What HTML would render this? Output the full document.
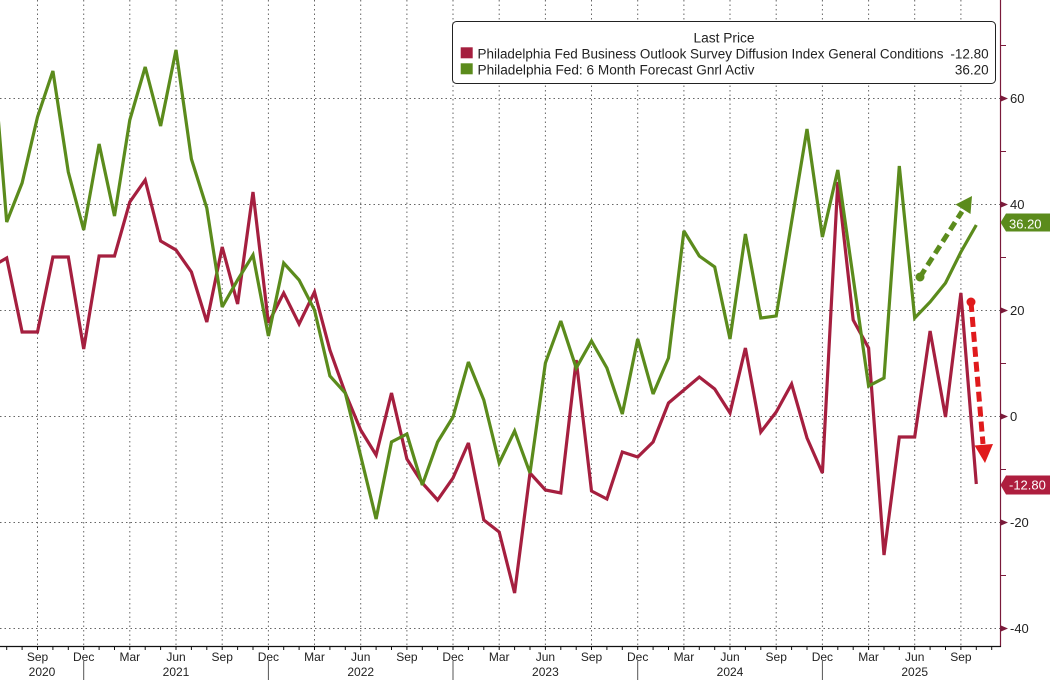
<!DOCTYPE html>
<html>
<head>
<meta charset="utf-8">
<style>
html,body{margin:0;padding:0;background:#fff;}
svg{display:block;font-family:"Liberation Sans",Arial,sans-serif;}
</style>
</head>
<body>
<svg width="1050" height="680" viewBox="0 0 1050 680" xmlns="http://www.w3.org/2000/svg">
<defs>
<clipPath id="plot"><rect x="0" y="0" width="1000" height="646"/></clipPath>
</defs>
<rect width="1050" height="680" fill="#fff"/>

<path stroke="#666" stroke-width="1" stroke-dasharray="1.5 3" fill="none" d="M0 98.5H1000M0 204.5H1000M0 310.5H1000M0 416.5H1000M0 522.5H1000M0 628.5H1000"/>
<path stroke="#666" stroke-width="1" stroke-dasharray="1.5 3" fill="none" d="M37.5 0V646M83.7 0V646M129.8 0V646M176 0V646M222.2 0V646M268.4 0V646M314.5 0V646M360.7 0V646M406.9 0V646M453 0V646M499.2 0V646M545.4 0V646M591.5 0V646M637.7 0V646M683.9 0V646M730 0V646M776.2 0V646M822.4 0V646M868.6 0V646M914.7 0V646M960.9 0V646"/>

<g clip-path="url(#plot)" fill="none" stroke-width="3.2" stroke-linejoin="miter" stroke-miterlimit="3">
<polyline stroke="#a51f3f" points="-8.7,267 6.7,258 22.1,332 37.5,332 52.9,257 68.3,257 83.7,349 99.1,256 114.5,256 129.8,202 145.2,180 160.6,241 176,250 191.4,272 206.8,322 222.2,247 237.6,304 253,192 268.4,323 283.7,293 299.1,324 314.5,292 329.9,350 345.3,393 360.7,430 376.1,455 391.5,393 406.9,459 422.3,483 437.6,500 453,478 468.4,443 483.8,520 499.2,532 514.6,593 530,473 545.4,490 560.8,493 576.2,360 591.5,491 606.9,499 622.3,452 637.7,457 653.1,442 668.5,403 683.9,390 699.3,377 714.7,389 730,413 745.4,348 760.8,432 776.2,412 791.6,384 807,438 822.4,473 837.8,182 853.2,320 868.6,348 884,555 899.3,437 914.7,437 930.1,331 945.5,417 960.9,293 976.3,484"/>
<polyline stroke="#5b8b1c" points="-8.7,34 6.7,222 22.1,183 37.5,117 52.9,71 68.3,172 83.7,230 99.1,144 114.5,216 129.8,120 145.2,67 160.6,126 176,50 191.4,159 206.8,208 222.2,307 237.6,280 253,255 268.4,336 283.7,263 299.1,280 314.5,310 329.9,376 345.3,393 360.7,456 376.1,519 391.5,442 406.9,434 422.3,485 437.6,442 453,417 468.4,362 483.8,400 499.2,463 514.6,431 530,473 545.4,363 560.8,321 576.2,368 591.5,341 606.9,368 622.3,414 637.7,339 653.1,394 668.5,358 683.9,231 699.3,256 714.7,267 730,339 745.4,234 760.8,318 776.2,316 791.6,222 807,129 822.4,237 837.8,170 853.2,278 868.6,386 884,378 899.3,166 914.7,318 930.1,302 945.5,283 960.9,252 976.3,225"/>
</g>

<circle cx="920" cy="277" r="4.5" fill="#5b8b1c"/>
<line x1="920" y1="277" x2="962" y2="211.5" stroke="#5b8b1c" stroke-width="5" stroke-dasharray="9 5"/>
<polygon points="972,196 970.5,214 955.5,204.5" fill="#5b8b1c"/>
<circle cx="971" cy="302" r="4.5" fill="#e01a1c"/>
<line x1="971" y1="302" x2="983" y2="444" stroke="#e01a1c" stroke-width="5" stroke-dasharray="10 5"/>
<polygon points="985,463 993,444 974.5,445.5" fill="#e01a1c"/>

<rect x="452.5" y="21.5" width="543" height="62" rx="4" ry="4" fill="#fff" stroke="#222" stroke-width="1"/>
<text x="724" y="42.5" font-size="13.5" fill="#222" text-anchor="middle" textLength="61" lengthAdjust="spacingAndGlyphs">Last Price</text>
<rect x="460.7" y="47.3" width="12" height="11" fill="#a51f3f"/>
<rect x="460.7" y="63.3" width="12" height="11" fill="#5b8b1c"/>
<text x="477.5" y="58.5" font-size="13.5" fill="#222" textLength="466" lengthAdjust="spacingAndGlyphs">Philadelphia Fed Business Outlook Survey Diffusion Index General Conditions</text>
<text x="477.5" y="74.3" font-size="13.5" fill="#222" textLength="277" lengthAdjust="spacingAndGlyphs">Philadelphia Fed: 6 Month Forecast Gnrl Activ</text>
<text x="988.7" y="58.5" font-size="13.5" fill="#222" text-anchor="end">-12.80</text>
<text x="988.7" y="74.3" font-size="13.5" fill="#222" text-anchor="end">36.20</text>

<line x1="1000.5" y1="0" x2="1000.5" y2="647" stroke="#7a1a3a" stroke-width="1.2"/>
<path fill="#7a1a3a" d="M1001 95.5L1008 98.5L1001 101.5ZM1001 201.5L1008 204.5L1001 207.5ZM1001 307.5L1008 310.5L1001 313.5ZM1001 413.5L1008 416.5L1001 419.5ZM1001 519.5L1008 522.5L1001 525.5ZM1001 625.5L1008 628.5L1001 631.5Z"/>
<path stroke="#7a1a3a" stroke-width="1" d="M1000 45.5H1006M1000 151.5H1006M1000 257.5H1006M1000 363.5H1006M1000 469.5H1006M1000 575.5H1006"/>
<g font-size="13" fill="#222">
<text x="1010" y="103">60</text>
<text x="1010" y="209">40</text>
<text x="1010" y="315">20</text>
<text x="1010" y="421">0</text>
<text x="1010" y="527">-20</text>
<text x="1010" y="633">-40</text>
</g>

<polygon points="1000.5,222.5 1006,213.5 1050,213.5 1050,231.5 1006,231.5" fill="#5b8b1c"/>
<text x="1009" y="228.5" font-size="13" fill="#fff">36.20</text>
<polygon points="1000.5,485 1006,475.5 1050,475.5 1050,494.5 1006,494.5" fill="#ae1e3e"/>
<text x="1009" y="489.5" font-size="13" fill="#fff">-12.80</text>

<line x1="0" y1="646.5" x2="1001" y2="646.5" stroke="#111" stroke-width="1.2"/>
<path stroke="#111" stroke-width="1" d="M6.7 646v4M22.1 646v4M37.5 646v4M52.9 646v4M68.3 646v4M83.7 646v4M99.1 646v4M114.5 646v4M129.8 646v4M145.2 646v4M160.6 646v4M176 646v4M191.4 646v4M206.8 646v4M222.2 646v4M237.6 646v4M253 646v4M268.4 646v4M283.7 646v4M299.1 646v4M314.5 646v4M329.9 646v4M345.3 646v4M360.7 646v4M376.1 646v4M391.5 646v4M406.9 646v4M422.3 646v4M437.6 646v4M453 646v4M468.4 646v4M483.8 646v4M499.2 646v4M514.6 646v4M530 646v4M545.4 646v4M560.8 646v4M576.2 646v4M591.5 646v4M606.9 646v4M622.3 646v4M637.7 646v4M653.1 646v4M668.5 646v4M683.9 646v4M699.3 646v4M714.7 646v4M730 646v4M745.4 646v4M760.8 646v4M776.2 646v4M791.6 646v4M807 646v4M822.4 646v4M837.8 646v4M853.2 646v4M868.6 646v4M884 646v4M899.3 646v4M914.7 646v4M930.1 646v4M945.5 646v4M960.9 646v4M976.3 646v4M991.7 646v4"/>
<path stroke="#555" stroke-width="1" d="M83.7 661V680M268.4 661V680M453 661V680M637.7 661V680M822.4 661V680"/>
<g font-size="12" fill="#222" text-anchor="middle">
<text x="37.5" y="661">Sep</text>
<text x="83.7" y="661">Dec</text>
<text x="129.8" y="661">Mar</text>
<text x="176" y="661">Jun</text>
<text x="222.2" y="661">Sep</text>
<text x="268.4" y="661">Dec</text>
<text x="314.5" y="661">Mar</text>
<text x="360.7" y="661">Jun</text>
<text x="406.9" y="661">Sep</text>
<text x="453" y="661">Dec</text>
<text x="499.2" y="661">Mar</text>
<text x="545.4" y="661">Jun</text>
<text x="591.5" y="661">Sep</text>
<text x="637.7" y="661">Dec</text>
<text x="683.9" y="661">Mar</text>
<text x="730" y="661">Jun</text>
<text x="776.2" y="661">Sep</text>
<text x="822.4" y="661">Dec</text>
<text x="868.6" y="661">Mar</text>
<text x="914.7" y="661">Jun</text>
<text x="960.9" y="661">Sep</text>
<text x="42" y="676">2020</text>
<text x="176" y="676">2021</text>
<text x="360.7" y="676">2022</text>
<text x="545.4" y="676">2023</text>
<text x="730" y="676">2024</text>
<text x="914.7" y="676">2025</text>
</g>
</svg>
</body>
</html>
